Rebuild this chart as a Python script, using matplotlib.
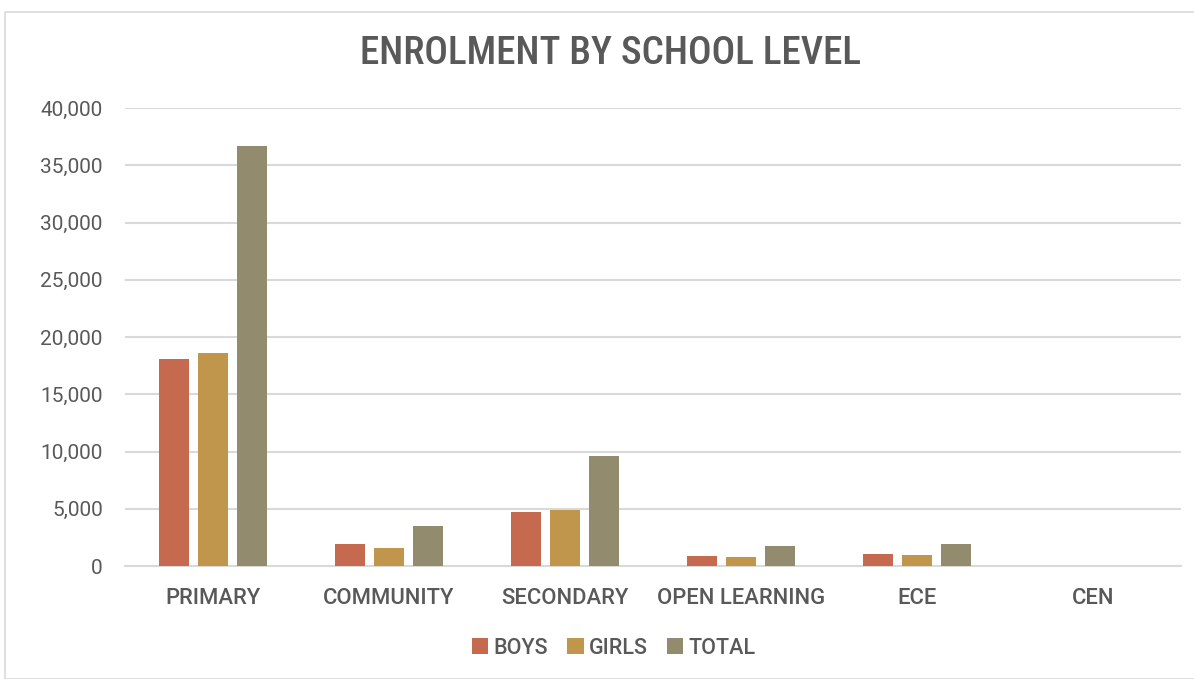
import matplotlib
matplotlib.use('Agg')
import matplotlib.pyplot as plt
import matplotlib.patches as patches
import numpy as np

levels = ['PRIMARY', 'COMMUNITY', 'SECONDARY', 'OPEN LEARNING', 'ECE', 'CEN']
boys = [18050, 1920, 4680, 910, 1020, 15]
girls = [18620, 1540, 4920, 820, 930, 12]
total = [36670, 3460, 9600, 1730, 1950, 27]

series_names = ['BOYS', 'GIRLS', 'TOTAL']
colors = ['#c5694f', '#bf964c', '#938b6e']
grey_text = '#595959'

plt.rcParams['font.family'] = ['Roboto', 'DejaVu Sans']

fig = plt.figure(figsize=(11.94, 6.79), dpi=100)
ax = fig.add_axes([125 / 1194, 113 / 679, 1056 / 1194, 458 / 679])

# outer chart border
fig.patches.append(patches.Rectangle((5 / 1194, 0), 1.0, 667 / 679, transform=fig.transFigure,
                                     fill=False, edgecolor='#d9d9d9', linewidth=1.2))

x = np.arange(len(levels))
w = 0.175
step = 0.222
for i, (vals, name, c) in enumerate(zip([boys, girls, total], series_names, colors)):
    ax.bar(x + (i - 1) * step, vals, width=w, color=c, label=name, zorder=3)

ax.set_xlim(-0.5, len(levels) - 0.5)
ax.set_ylim(0, 40000)
ax.set_yticks(range(0, 40001, 5000))
ax.set_yticklabels([f'{v:,}' for v in range(0, 40001, 5000)])
ax.set_xticks(x)
ax.set_xticklabels(levels, fontweight=500)
ax.yaxis.grid(True, color='#d9d9d9', linewidth=1.5, zorder=0)
for s in ['top', 'right', 'left']:
    ax.spines[s].set_visible(False)
ax.spines['bottom'].set_color('#d9d9d9')
ax.spines['bottom'].set_linewidth(1.5)
ax.tick_params(axis='y', length=0, pad=16, labelsize=15, labelcolor=grey_text)
ax.tick_params(axis='x', length=0, pad=16, labelsize=15.8, labelcolor=grey_text)

fig.text(611 / 1194, 1 - 53 / 679, 'ENROLMENT BY SCHOOL LEVEL', ha='center', va='center',
         fontsize=28.2, fontweight=500, color=grey_text,
         family=['Roboto Condensed', 'DejaVu Sans'])

fig.legend(loc='center', bbox_to_anchor=(614 / 1194, 1 - 648 / 679), ncol=3, frameon=False,
           prop={'size': 15.5, 'weight': 500}, labelcolor=grey_text,
           handlelength=0.75, handleheight=0.75, handletextpad=0.25, columnspacing=0.9)

fig.savefig('out.png', dpi=100, facecolor='white')
